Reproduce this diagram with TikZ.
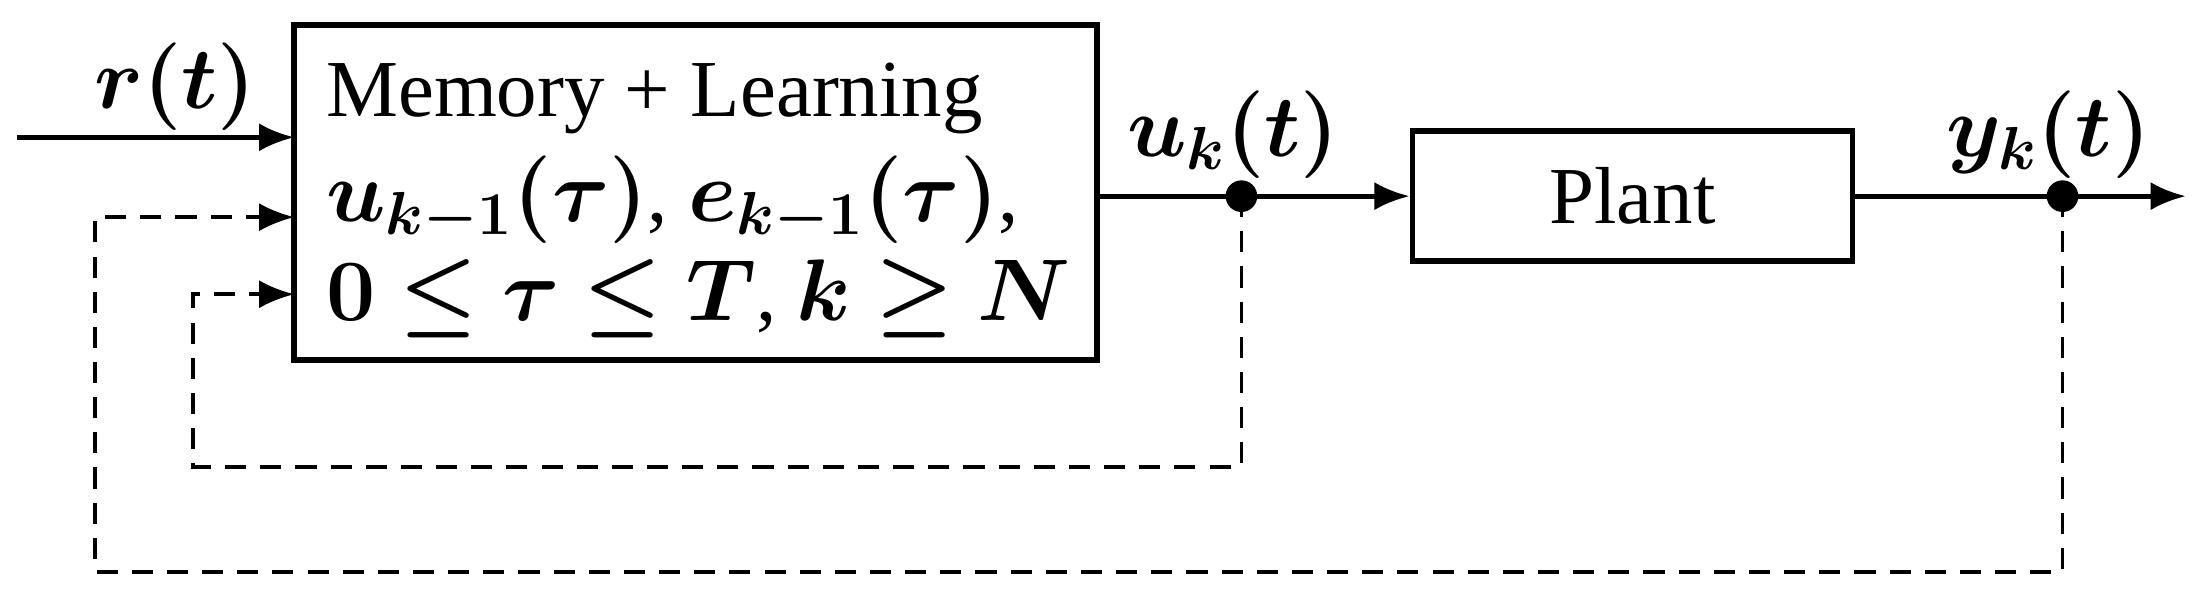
\documentclass[tikz,border=0pt]{standalone}
\usepackage{amsmath,amssymb,bm}
\usepackage{fontspec}
\setmainfont{Liberation Serif}
\usetikzlibrary{arrows.meta}
\begin{document}
\begin{tikzpicture}[x=0.014012cm,y=-0.014012cm,
  blk/.style={draw,line width=1.6pt,inner sep=0pt},
  sig/.style={line width=1.4pt,-{Latex[length=10pt,width=8pt]}},
  fb/.style={line width=1.1pt,dashed,dash pattern=on 6pt off 4pt,-{Latex[length=10pt,width=8pt]}},
  dot/.style={circle,fill,inner sep=0pt,minimum size=9pt},
  lbl/.style={font=\fontsize{23}{27}\selectfont}]
\useasboundingbox (0,0) rectangle (1568,430.4);
\node[blk,minimum width=573*0.014012cm,minimum height=239*0.014012cm] (mem) at (496.5,137.5) {};
\node[lbl,align=left,anchor=north west] (memt) at (224,36) {Memory + Learning\\[3pt]
$\bm{u_{k-1}(\tau)}$, $\bm{e_{k-1}(\tau)}$,\\[1pt] $\bm{0\le\tau\le T}$, $\bm{k\ge N}$};
\node[blk,minimum width=314*0.014012cm,minimum height=93*0.014012cm,lbl] (plant) at (1165,140) {Plant};
\coordinate (rin) at (12,98);
\coordinate (m1) at (210,98);
\coordinate (m2) at (210,155);
\coordinate (m3) at (210,210);
\node[dot] (du) at (886,140) {};
\node[dot] (dy) at (1472,140) {};
\coordinate (out) at (1560,140);
\coordinate (b1) at (886,333);
\coordinate (b1l) at (138,333);
\coordinate (b2) at (1472,408);
\coordinate (b2l) at (68,408);
\node[lbl] (rl) at (125,62) {$\bm{r(t)}$};
\node[lbl] (ul) at (880,96) {$\bm{u_k(t)}$};
\node[lbl] (yl) at (1462,96) {$\bm{y_k(t)}$};
\draw[sig] (rin) -- (m1);
\draw[line width=1.4pt] (783,140) -- (du.center);
\draw[sig] (du.center) -- (plant.west);
\draw[line width=1.4pt] (plant.east) -- (dy.center);
\draw[sig] (dy.center) -- (out);
\draw[fb] (du.center) -- (b1) -- (b1l) |- (m3);
\draw[fb] (dy.center) -- (b2) -- (b2l) |- (m2);
\end{tikzpicture}
\end{document}
